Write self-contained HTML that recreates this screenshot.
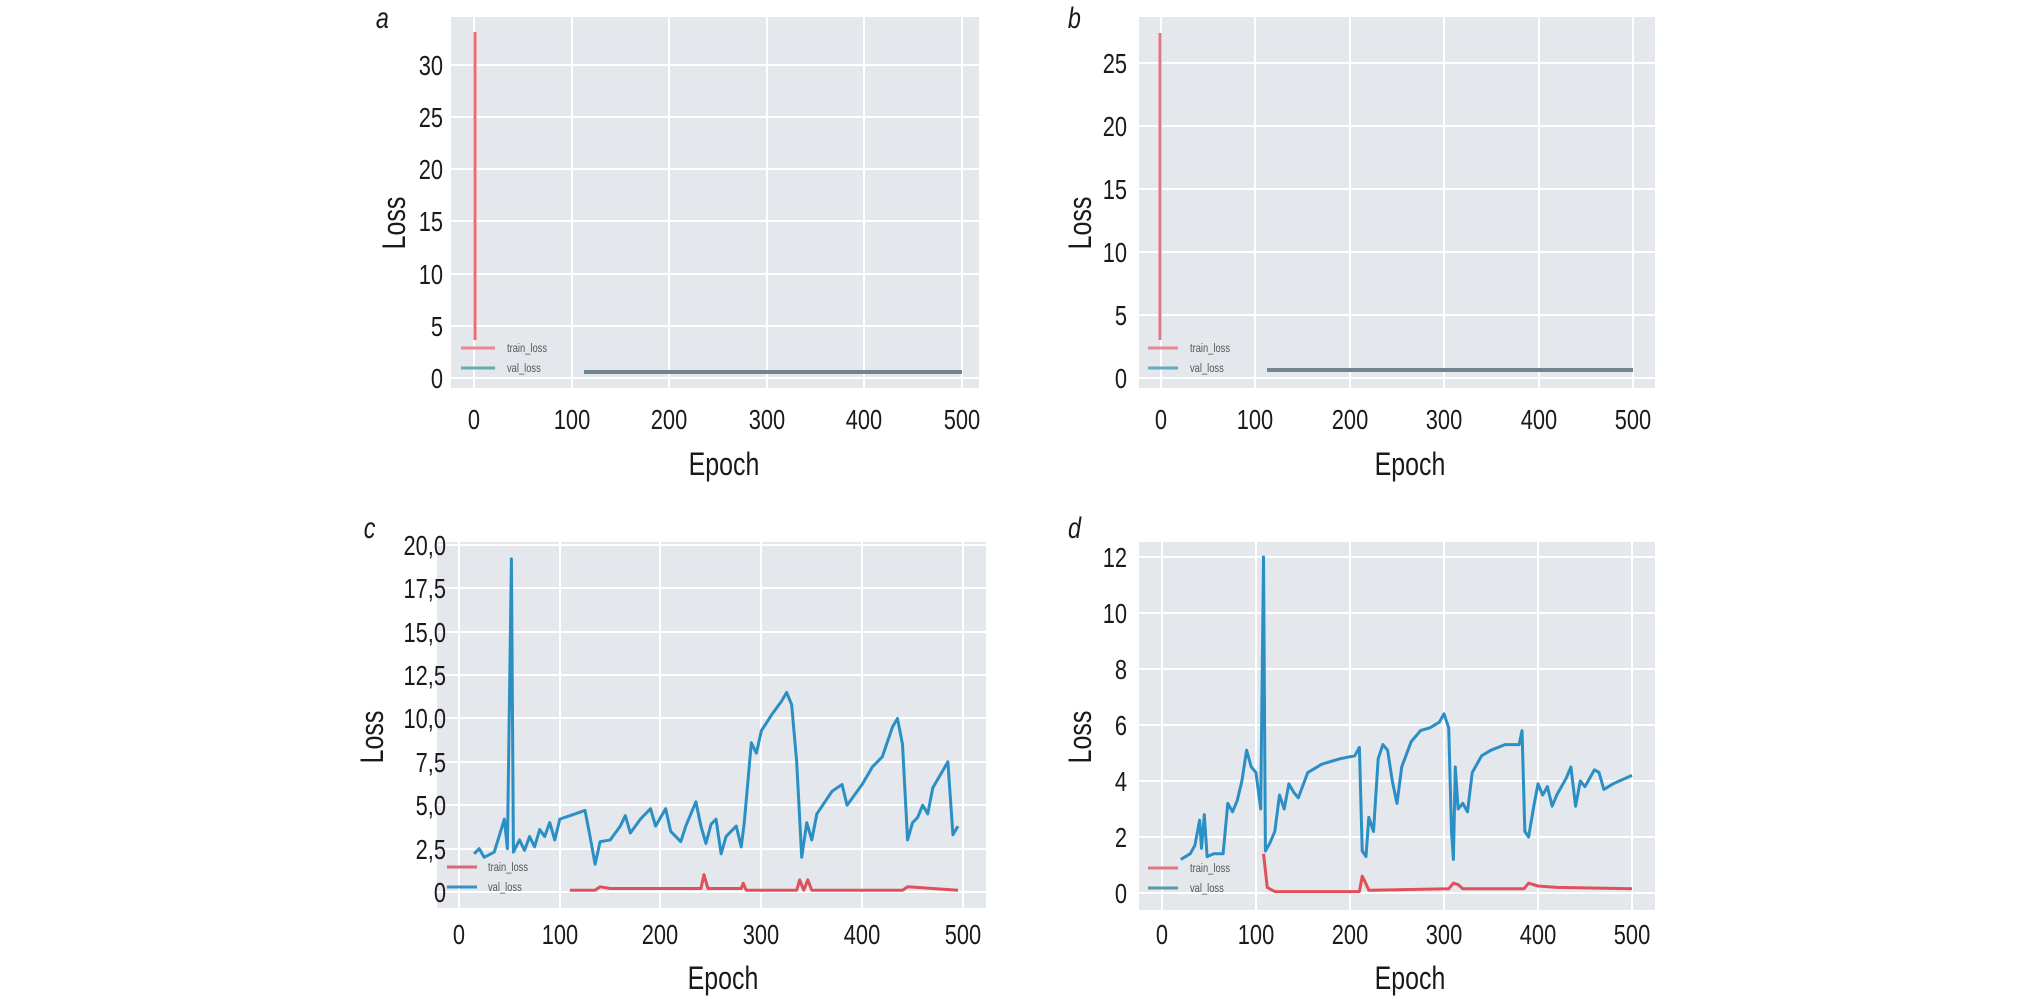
<!DOCTYPE html>
<html><head><meta charset="utf-8"><style>
html,body{margin:0;padding:0;background:#fff;}
svg{display:block;font-family:"Liberation Sans Narrow","Liberation Sans",sans-serif;}
text{transform-box:fill-box;transform-origin:center;transform:scaleX(.78);}
.t{font-size:28px;fill:#1a1a1a;}
.te{font-size:28px;fill:#1a1a1a;transform-origin:right center;}
.ax{font-size:32px;fill:#1a1a1a;}
.pl{font-size:30px;font-style:italic;fill:#1a1a1a;}
.lg{font-size:12px;fill:#555;font-family:"Liberation Sans",sans-serif;transform-origin:left center;}
.g{stroke:#fff;stroke-width:2;}
.v{fill:none;stroke:#2a8fc4;stroke-width:3;vector-effect:non-scaling-stroke;stroke-linejoin:round;}
.r{fill:none;stroke:#e0505a;stroke-width:3;vector-effect:non-scaling-stroke;stroke-linejoin:round;}
</style></head><body>
<svg width="2020" height="997" viewBox="0 0 2020 997" xmlns="http://www.w3.org/2000/svg">
<rect width="2020" height="997" fill="#fff"/>

<!-- Panel a -->
<rect x="451" y="17" width="528" height="371" fill="#e4e7eb"/>
<g class="g">
<line x1="474" y1="17" x2="474" y2="388"/><line x1="572" y1="17" x2="572" y2="388"/><line x1="669" y1="17" x2="669" y2="388"/><line x1="767" y1="17" x2="767" y2="388"/><line x1="864" y1="17" x2="864" y2="388"/><line x1="962" y1="17" x2="962" y2="388"/>
<line x1="451" y1="378" x2="979" y2="378"/><line x1="451" y1="326" x2="979" y2="326"/><line x1="451" y1="274" x2="979" y2="274"/><line x1="451" y1="221" x2="979" y2="221"/><line x1="451" y1="169" x2="979" y2="169"/><line x1="451" y1="117" x2="979" y2="117"/><line x1="451" y1="65" x2="979" y2="65"/>
</g>
<line x1="475" y1="32" x2="475" y2="340" stroke="#f06a72" stroke-width="3"/>
<line x1="584" y1="372" x2="962" y2="372" stroke="#6f8592" stroke-width="4"/>
<line x1="461" y1="348" x2="495" y2="348" stroke="#e98a92" stroke-width="3"/>
<line x1="461" y1="368" x2="495" y2="368" stroke="#5fb0a8" stroke-width="3"/>
<text class="lg" x="507" y="352">train_loss</text><text class="lg" x="507" y="372">val_loss</text>
<g text-anchor="end">
<text class="te" x="443" y="388">0</text><text class="te" x="443" y="336">5</text><text class="te" x="443" y="284">10</text><text class="te" x="443" y="231">15</text><text class="te" x="443" y="179">20</text><text class="te" x="443" y="127">25</text><text class="te" x="443" y="75">30</text>
</g>
<g class="t" text-anchor="middle">
<text x="474" y="429">0</text><text x="572" y="429">100</text><text x="669" y="429">200</text><text x="767" y="429">300</text><text x="864" y="429">400</text><text x="962" y="429">500</text>
</g>
<text class="ax" x="724" y="475" text-anchor="middle">Epoch</text>
<g transform="translate(405,223) rotate(-90)"><text class="ax" x="0" y="0" text-anchor="middle">Loss</text></g>
<text class="pl" x="374" y="28">a</text>

<!-- Panel b -->
<rect x="1139" y="17" width="516" height="371" fill="#e4e7eb"/>
<g class="g">
<line x1="1161" y1="17" x2="1161" y2="388"/><line x1="1255" y1="17" x2="1255" y2="388"/><line x1="1350" y1="17" x2="1350" y2="388"/><line x1="1444" y1="17" x2="1444" y2="388"/><line x1="1539" y1="17" x2="1539" y2="388"/><line x1="1633" y1="17" x2="1633" y2="388"/>
<line x1="1139" y1="378" x2="1655" y2="378"/><line x1="1139" y1="315" x2="1655" y2="315"/><line x1="1139" y1="252" x2="1655" y2="252"/><line x1="1139" y1="189" x2="1655" y2="189"/><line x1="1139" y1="126" x2="1655" y2="126"/><line x1="1139" y1="63" x2="1655" y2="63"/>
</g>
<line x1="1160" y1="33" x2="1160" y2="340" stroke="#e07880" stroke-width="3"/>
<line x1="1267" y1="370" x2="1633" y2="370" stroke="#74858f" stroke-width="4"/>
<line x1="1148" y1="348" x2="1178" y2="348" stroke="#e98a92" stroke-width="3"/>
<line x1="1148" y1="368" x2="1178" y2="368" stroke="#5faec0" stroke-width="3"/>
<text class="lg" x="1190" y="352">train_loss</text><text class="lg" x="1190" y="372">val_loss</text>
<g text-anchor="end">
<text class="te" x="1127" y="388">0</text><text class="te" x="1127" y="325">5</text><text class="te" x="1127" y="262">10</text><text class="te" x="1127" y="199">15</text><text class="te" x="1127" y="136">20</text><text class="te" x="1127" y="73">25</text>
</g>
<g class="t" text-anchor="middle">
<text x="1161" y="429">0</text><text x="1255" y="429">100</text><text x="1350" y="429">200</text><text x="1444" y="429">300</text><text x="1539" y="429">400</text><text x="1633" y="429">500</text>
</g>
<text class="ax" x="1410" y="475" text-anchor="middle">Epoch</text>
<g transform="translate(1091,223) rotate(-90)"><text class="ax" x="0" y="0" text-anchor="middle">Loss</text></g>
<text class="pl" x="1066" y="28">b</text>

<!-- Panel c -->
<rect x="437" y="542" width="549" height="366" fill="#e4e7eb"/>
<g class="g">
<line x1="459" y1="542" x2="459" y2="908"/><line x1="560" y1="542" x2="560" y2="908"/><line x1="660" y1="542" x2="660" y2="908"/><line x1="761" y1="542" x2="761" y2="908"/><line x1="862" y1="542" x2="862" y2="908"/><line x1="963" y1="542" x2="963" y2="908"/>
<line x1="437" y1="892" x2="986" y2="892"/><line x1="437" y1="849" x2="986" y2="849"/><line x1="437" y1="805" x2="986" y2="805"/><line x1="437" y1="762" x2="986" y2="762"/><line x1="437" y1="718" x2="986" y2="718"/><line x1="437" y1="675" x2="986" y2="675"/><line x1="437" y1="632" x2="986" y2="632"/><line x1="437" y1="588" x2="986" y2="588"/><line x1="437" y1="545" x2="986" y2="545"/>
</g>
<g transform="translate(459,892) scale(1.008,-17.35)">
<polyline class="v" points="15,2.2 20,2.5 25,2.0 35,2.3 45,4.2 48,2.5 52,19.2 54,2.3 60,3.0 65,2.4 70,3.2 75,2.6 80,3.6 85,3.2 90,4.0 95,3.0 100,4.2 110,4.4 125,4.7 130,3.2 135,1.6 140,2.9 150,3.0 160,3.8 165,4.4 170,3.4 180,4.2 190,4.8 195,3.8 205,4.8 210,3.5 220,2.9 225,3.8 235,5.2 240,3.8 245,2.8 250,3.9 255,4.2 260,2.2 265,3.2 275,3.8 280,2.6 283,4.0 290,8.6 295,8.0 300,9.3 310,10.2 320,11.0 325,11.5 330,10.8 335,7.5 340,2.0 345,4.0 350,3.0 355,4.5 370,5.8 380,6.2 385,5.0 400,6.2 410,7.2 420,7.8 430,9.5 435,10.0 440,8.5 445,3.0 450,4.0 455,4.3 460,5.0 465,4.5 470,6.0 485,7.5 490,3.3 495,3.8"/>
<polyline class="r" points="110,0.1 135,0.1 140,0.3 150,0.2 240,0.2 243,1.0 247,0.2 280,0.2 282,0.5 285,0.1 335,0.1 338,0.7 342,0.1 346,0.7 350,0.1 440,0.1 445,0.3 495,0.1"/>
</g>
<line x1="447" y1="867" x2="477" y2="867" stroke="#d76a78" stroke-width="3"/>
<line x1="447" y1="887" x2="477" y2="887" stroke="#3a90c0" stroke-width="3"/>
<text class="lg" x="488" y="871">train_loss</text><text class="lg" x="488" y="891">val_loss</text>
<g text-anchor="end">
<text class="te" x="446" y="902">0</text><text class="te" x="446" y="859">2,5</text><text class="te" x="446" y="815">5,0</text><text class="te" x="446" y="772">7,5</text><text class="te" x="446" y="728">10,0</text><text class="te" x="446" y="685">12,5</text><text class="te" x="446" y="642">15,0</text><text class="te" x="446" y="598">17,5</text><text class="te" x="446" y="555">20,0</text>
</g>
<g class="t" text-anchor="middle">
<text x="459" y="944">0</text><text x="560" y="944">100</text><text x="660" y="944">200</text><text x="761" y="944">300</text><text x="862" y="944">400</text><text x="963" y="944">500</text>
</g>
<text class="ax" x="723" y="989" text-anchor="middle">Epoch</text>
<g transform="translate(383,737) rotate(-90)"><text class="ax" x="0" y="0" text-anchor="middle">Loss</text></g>
<text class="pl" x="362" y="538">c</text>

<!-- Panel d -->
<rect x="1139" y="542" width="516" height="368" fill="#e4e7eb"/>
<g class="g">
<line x1="1162" y1="542" x2="1162" y2="910"/><line x1="1256" y1="542" x2="1256" y2="910"/><line x1="1350" y1="542" x2="1350" y2="910"/><line x1="1444" y1="542" x2="1444" y2="910"/><line x1="1538" y1="542" x2="1538" y2="910"/><line x1="1632" y1="542" x2="1632" y2="910"/>
<line x1="1139" y1="893" x2="1655" y2="893"/><line x1="1139" y1="837" x2="1655" y2="837"/><line x1="1139" y1="781" x2="1655" y2="781"/><line x1="1139" y1="725" x2="1655" y2="725"/><line x1="1139" y1="669" x2="1655" y2="669"/><line x1="1139" y1="613" x2="1655" y2="613"/><line x1="1139" y1="557" x2="1655" y2="557"/>
</g>
<g transform="translate(1162,893) scale(0.94,-28)">
<polyline class="v" points="20,1.2 30,1.4 35,1.7 40,2.6 42,1.6 45,2.8 48,1.3 55,1.4 65,1.4 70,3.2 75,2.9 80,3.3 85,4.0 90,5.1 95,4.5 100,4.3 105,3.0 108,12.0 110,1.5 115,1.8 120,2.2 125,3.5 130,3.0 135,3.9 140,3.6 145,3.4 155,4.3 170,4.6 190,4.8 205,4.9 210,5.2 213,1.5 217,1.3 220,2.7 225,2.2 230,4.8 235,5.3 240,5.1 245,4.0 250,3.2 255,4.5 265,5.4 275,5.8 285,5.9 295,6.1 300,6.4 305,5.9 308,2.2 310,1.2 312,4.5 315,3.0 320,3.2 325,2.9 330,4.3 340,4.9 350,5.1 365,5.3 380,5.3 383,5.8 386,2.2 390,2.0 395,3.0 400,3.9 405,3.5 410,3.8 415,3.1 420,3.5 430,4.1 435,4.5 440,3.1 445,4.0 450,3.8 460,4.4 465,4.3 470,3.7 480,3.9 500,4.2"/>
<polyline class="r" points="108,1.4 112,0.2 120,0.05 210,0.05 213,0.6 216,0.4 220,0.1 305,0.15 310,0.35 315,0.3 320,0.15 385,0.15 390,0.35 400,0.25 420,0.2 500,0.15"/>
</g>
<line x1="1148" y1="868" x2="1178" y2="868" stroke="#e07880" stroke-width="3"/>
<line x1="1148" y1="888" x2="1178" y2="888" stroke="#5a9aa8" stroke-width="3"/>
<text class="lg" x="1190" y="872">train_loss</text><text class="lg" x="1190" y="892">val_loss</text>
<g text-anchor="end">
<text class="te" x="1127" y="903">0</text><text class="te" x="1127" y="847">2</text><text class="te" x="1127" y="791">4</text><text class="te" x="1127" y="735">6</text><text class="te" x="1127" y="679">8</text><text class="te" x="1127" y="623">10</text><text class="te" x="1127" y="567">12</text>
</g>
<g class="t" text-anchor="middle">
<text x="1162" y="944">0</text><text x="1256" y="944">100</text><text x="1350" y="944">200</text><text x="1444" y="944">300</text><text x="1538" y="944">400</text><text x="1632" y="944">500</text>
</g>
<text class="ax" x="1410" y="989" text-anchor="middle">Epoch</text>
<g transform="translate(1091,737) rotate(-90)"><text class="ax" x="0" y="0" text-anchor="middle">Loss</text></g>
<text class="pl" x="1066" y="538">d</text>
</svg>
</body></html>
